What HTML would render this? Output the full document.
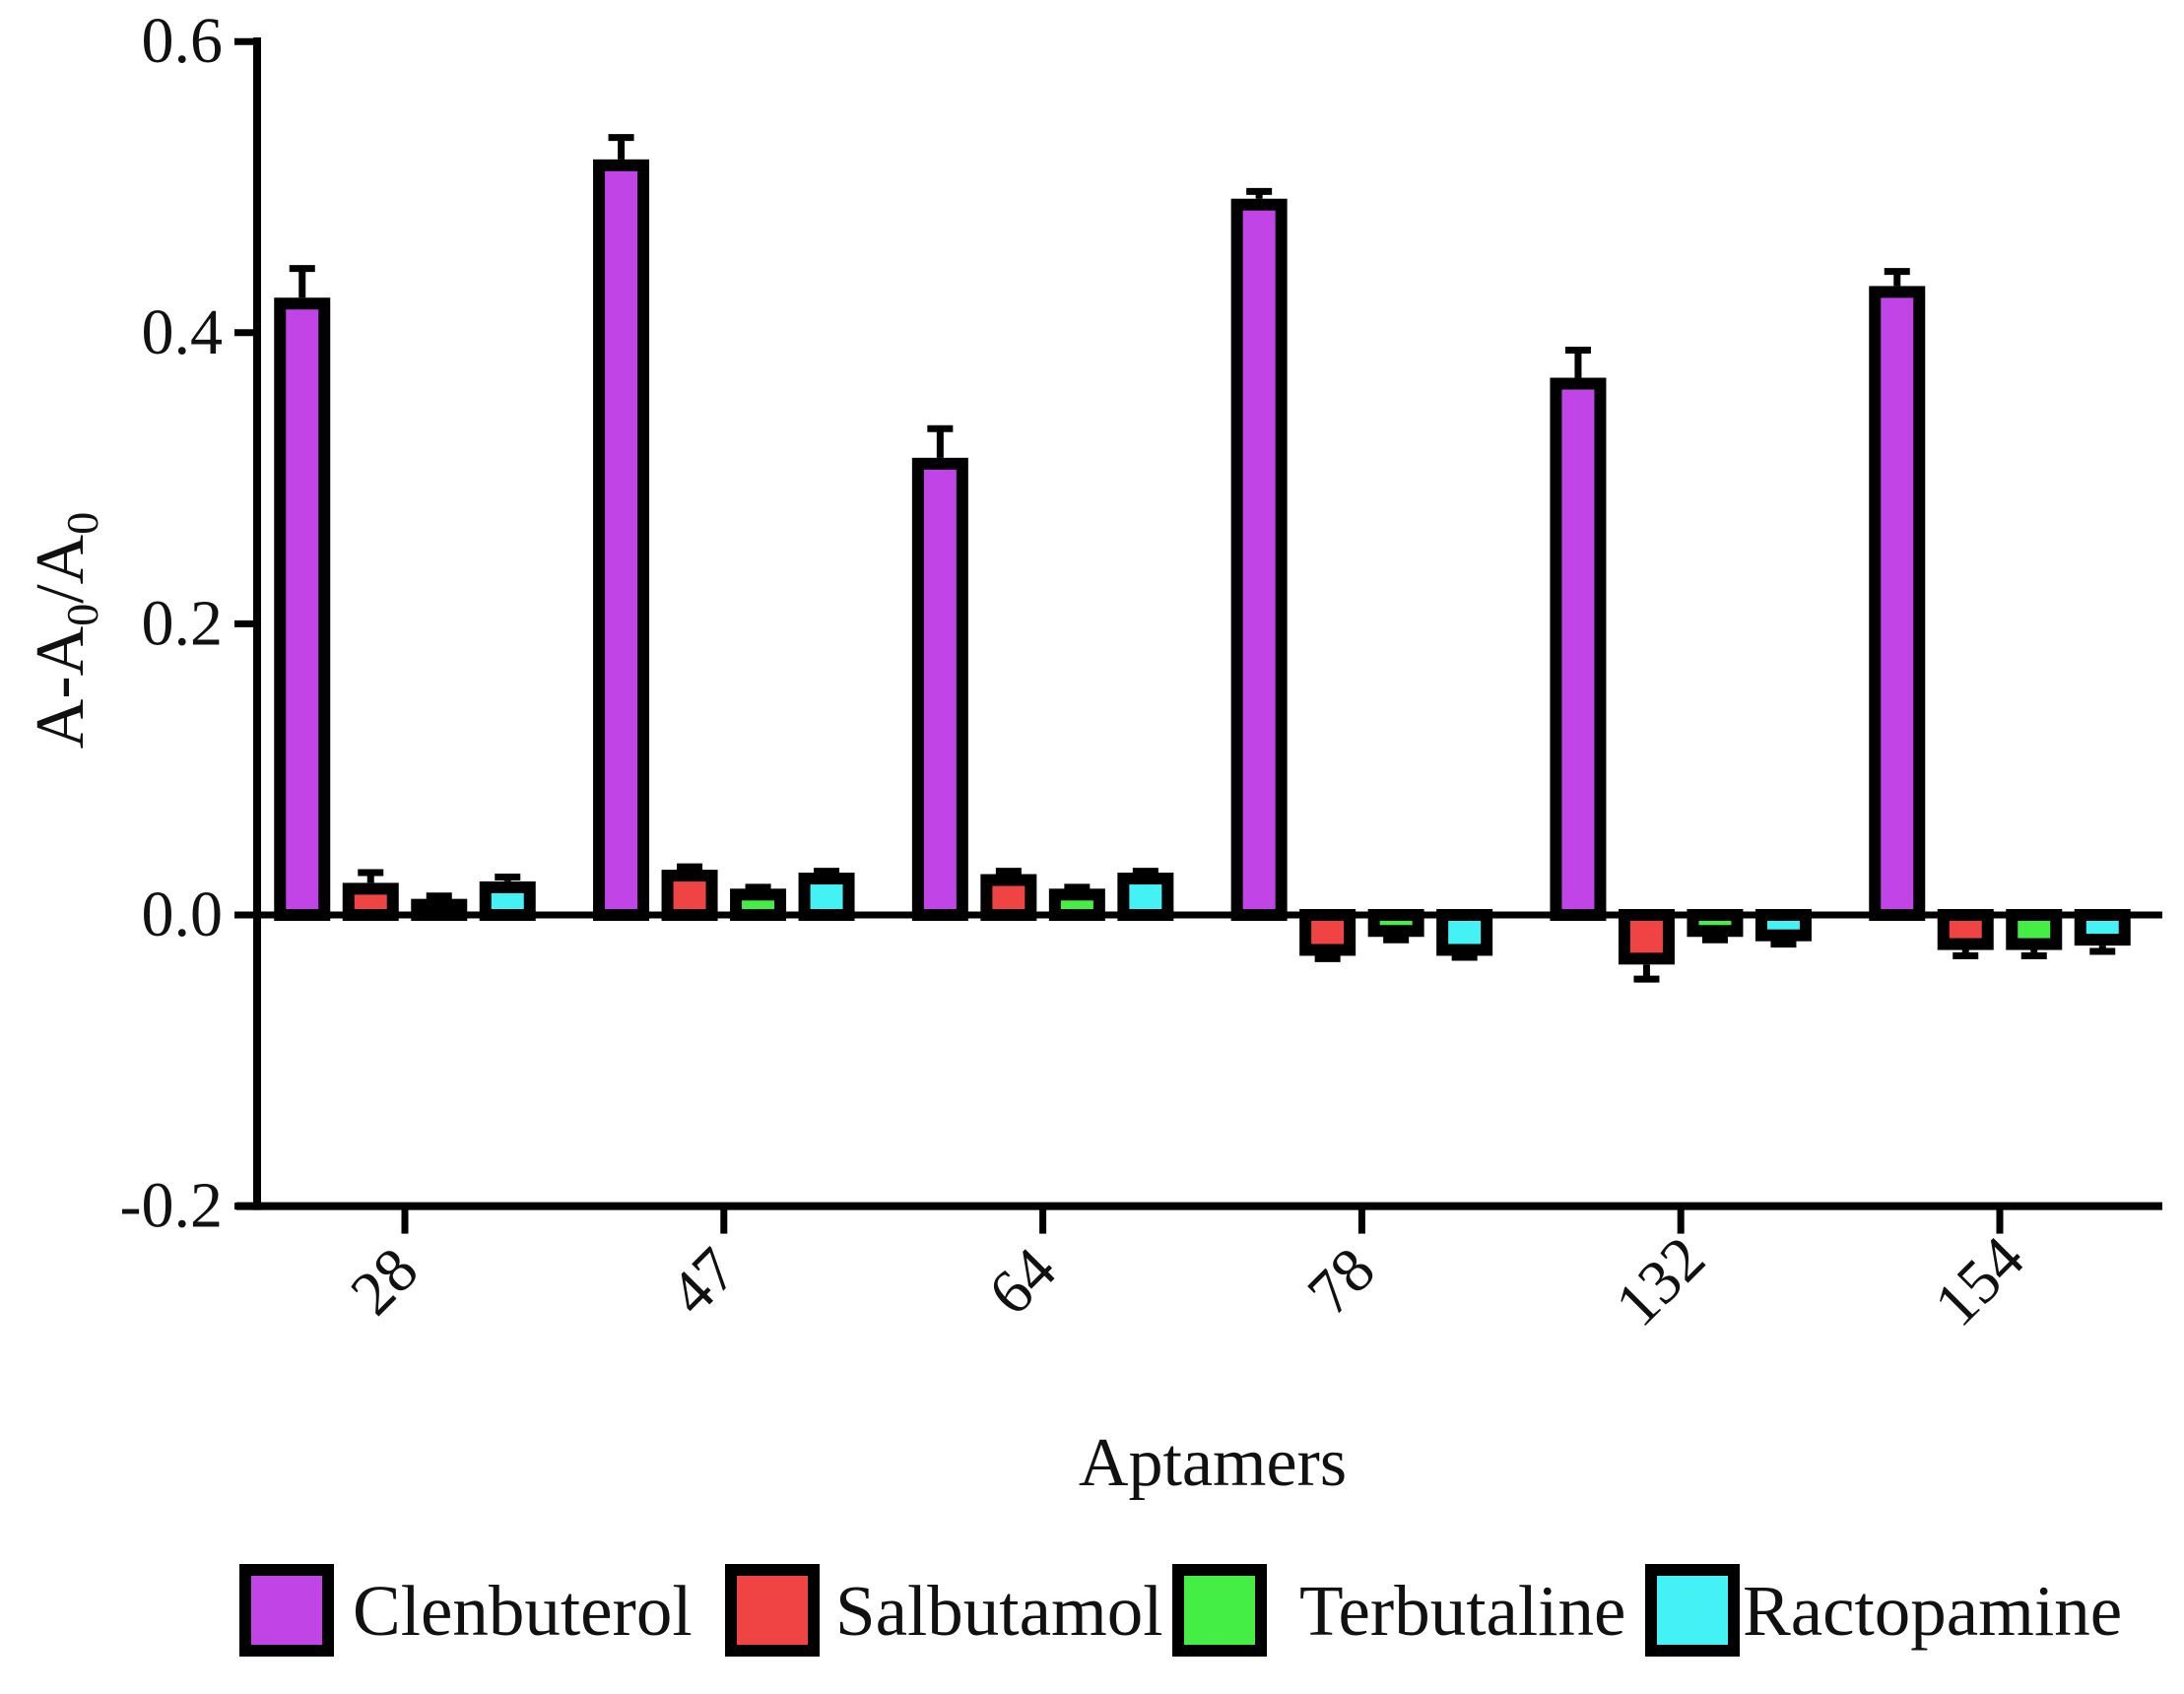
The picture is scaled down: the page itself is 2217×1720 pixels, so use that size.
<!DOCTYPE html>
<html><head><meta charset="utf-8"><style>
body{margin:0;background:#fff;}
svg{display:block;font-family:"Liberation Serif",serif;}
</style></head><body>
<svg id="chart" width="2217" height="1720" viewBox="0 0 2217 1720">
<g id="bars"></g>
<g id="axes"></g>
<g id="legend"></g>
</svg>
<script>
const categories = ["28","47","64","78","132","154"];
const seriesNames = ["Clenbuterol","Salbutamol","Terbutaline","Ractopamine"];
const clenbuterol = [0.420,0.515,0.310,0.488,0.365,0.428];
const salbutamol = [0.018,0.027,0.024,-0.024,-0.030,-0.020];
const terbutaline = [0.007,0.014,0.014,-0.011,-0.011,-0.020];
const ractopamine = [0.019,0.025,0.025,-0.024,-0.014,-0.017];
const clenErr = [0.020,0.015,0.020,0.005,0.019,0.010];
const salbErr = [0.007,0.002,0.002,0.002,0.010,0.004];
const terbErr = [0.002,0.001,0.001,0.002,0.002,0.004];
const ractErr = [0.003,0.001,0.001,0.001,0.002,0.004];
const yTicks = [0.6,0.4,0.2,0.0,-0.2];
const yTickLabels = ["0.6","0.4","0.2","0.0","-0.2"];
const colors = ["#c044e6","#f04444","#44ee44","#44f2f6"];

const NS="http://www.w3.org/2000/svg";
const y0=929, pxPer=1478;
function yS(v){return y0 - v*pxPer;}
function xS(i){return 411 + 323.8*i;}
function mk(tag,attrs,parent){const e=document.createElementNS(NS,tag);for(const k in attrs)e.setAttribute(k,attrs[k]);parent.appendChild(e);return e;}
const bars=document.getElementById('bars'), axes=document.getElementById('axes'), legend=document.getElementById('legend');
const series=[clenbuterol,salbutamol,terbutaline,ractopamine];
const errs=[clenErr,salbErr,terbErr,ractErr];
const pitch=69.5, bw=45, sw=12;
categories.forEach((c,i)=>{
  series.forEach((s,j)=>{
    const cx=xS(i)+(j-1.5)*pitch;
    const v=s[i], e=errs[j][i];
    const top=Math.min(yS(v),y0), h=Math.abs(yS(v)-y0);
    const r=mk('rect',{x:cx-bw/2,y:top,width:bw,height:Math.max(h,0.5),fill:colors[j],stroke:'#000','stroke-width':sw},bars);
    
    
    const sign=v>=0?1:-1;
    const yEnd=yS(v)-sign*sw/2, yErr=yS(v+sign*e)-sign*sw/2;
    const eb=mk('path',{d:`M${cx} ${yEnd}L${cx} ${yErr}M${cx-13} ${yErr}L${cx+13} ${yErr}`,stroke:'#000','stroke-width':7,fill:'none'},bars);
    
    
  });
});
let yl=mk('line',{x1:261,y1:38,x2:261,y2:yS(-0.2)+4,stroke:'#000','stroke-width':8},axes);


let zl=mk('line',{x1:257,y1:y0,x2:2195,y2:y0,stroke:'#000','stroke-width':7},axes);


let xl=mk('line',{x1:240,y1:yS(-0.2),x2:2195,y2:yS(-0.2),stroke:'#000','stroke-width':8},axes);


yTicks.forEach((t,k)=>{
  const y=yS(t);
  mk('line',{x1:238,y1:y,x2:261,y2:y,stroke:'#000','stroke-width':7},axes);
  const tx=mk('text',{x:226,y:y+21,'text-anchor':'end','font-size':66,fill:'#111'},axes);
  tx.textContent=yTickLabels[k];
  
  
});
categories.forEach((c,i)=>{
  const x=xS(i);
  mk('line',{x1:x,y1:yS(-0.2),x2:x,y2:yS(-0.2)+28,stroke:'#000','stroke-width':7},axes);
  const tx=mk('text',{x:0,y:0,'text-anchor':'middle','font-size':64,fill:'#111',transform:`translate(${x-6},${1316}) rotate(-45)`},axes);
  tx.textContent=c;
  
  
});
let xt=mk('text',{x:1231,y:1508,'text-anchor':'middle','font-size':70,fill:'#111'},axes);
xt.textContent='Aptamers';


let yt=mk('text',{x:0,y:0,'text-anchor':'middle','font-size':70,fill:'#111',transform:'translate(84,640) rotate(-90)'},axes);
yt.innerHTML='A-A<tspan font-size="46" dy="15">0</tspan><tspan dy="-15">/A</tspan><tspan font-size="46" dy="15">0</tspan>';


const boxX=[249,742,1196,1676], textX=[358,848,1319,1769];
seriesNames.forEach((n,j)=>{
  const b=mk('rect',{x:boxX[j],y:1594,width:84,height:82,fill:colors[j],stroke:'#000','stroke-width':12},legend);
  
  
  const t=mk('text',{x:textX[j],y:1660,'font-size':73,fill:'#111'},legend);
  t.textContent=n;
  
  
});
</script>
</body></html>
